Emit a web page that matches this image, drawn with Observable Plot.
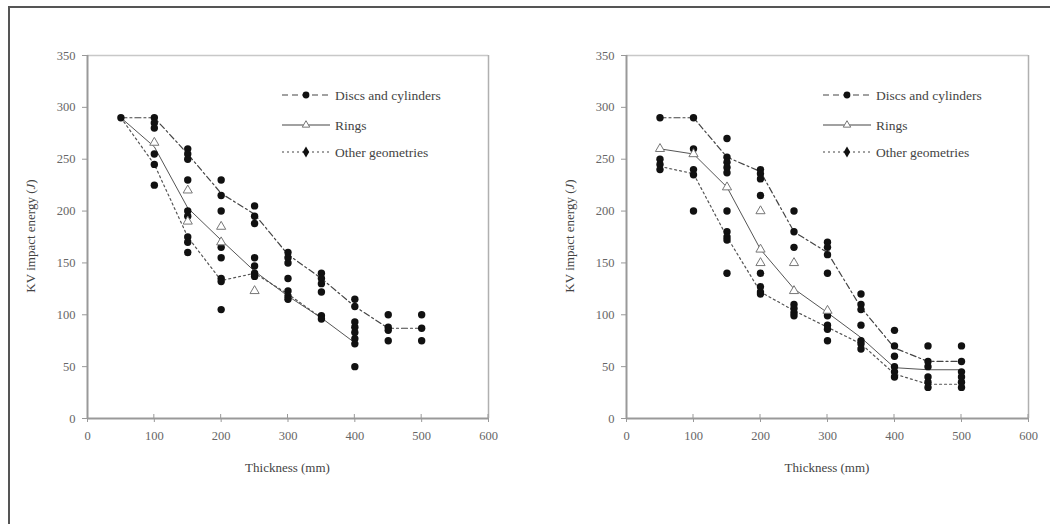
<!DOCTYPE html>
<html>
<head>
<meta charset="utf-8">
<script src="https://cdn.jsdelivr.net/npm/d3@7"></script>
<script src="https://cdn.jsdelivr.net/npm/@observablehq/plot@0.6"></script>
<style>
  html, body { margin: 0; padding: 0; background: #fff; }
  #wrap { position: relative; width: 1050px; height: 524px; overflow: hidden; background: #fff; }
  #frame { position: absolute; left: 8px; top: 6px; width: 1050px; height: 540px; border: 2px solid #555; box-sizing: border-box; }
  .panel { position: absolute; top: 0; }
</style>
</head>
<body>
<div id="wrap"><div id="frame"></div></div>
<script>
// ---------- shared ----------
const thicknessTicks = [0, 100, 200, 300, 400, 500, 600];
const energyTicks = [0, 50, 100, 150, 200, 250, 300, 350];
const seriesNames = ["Discs and cylinders", "Rings", "Other geometries"];
const xLabel = "Thickness (mm)";

// ---------- left panel ----------
const leftDiscsX = [50, 100, 100, 100, 150, 150, 150, 150, 200, 200, 200, 250, 250, 250, 300, 300, 300, 350, 350, 350, 350, 400, 400, 400, 400, 450, 450, 450, 450, 500, 500, 500];
const leftDiscsY = [290, 290, 285, 280, 260, 255, 250, 230, 230, 215, 200, 205, 195, 188, 160, 155, 150, 140, 135, 130, 122, 115, 108, 93, 88, 100, 88, 85, 75, 100, 87, 75];
const leftOtherX = [100, 100, 100, 150, 150, 150, 150, 150, 200, 200, 200, 200, 200, 250, 250, 250, 250, 300, 300, 300, 300, 350, 350, 400, 400, 400, 400];
const leftOtherY = [255, 245, 225, 200, 195, 175, 170, 160, 165, 155, 135, 132, 105, 155, 147, 140, 137, 135, 123, 118, 115, 99, 96, 83, 77, 72, 50];
const leftRingsX = [100, 150, 150, 200, 200, 250];
const leftRingsY = [266, 220, 190, 185, 170, 123];
const leftDiscsMeanX = [50, 100, 150, 200, 250, 300, 350, 400, 450, 500];
const leftDiscsMeanY = [290, 290, 255, 217, 197, 158, 135, 108, 87, 87];
const leftRingsMeanX = [50, 100, 150, 200, 250, 300, 350, 400];
const leftRingsMeanY = [290, 262, 203, 172, 142, 118, 97, 73];
const leftOtherMeanX = [50, 100, 150, 200, 250, 300, 350];
const leftOtherMeanY = [290, 245, 175, 133, 140, 120, 97];

// ---------- right panel ----------
const rightDiscsX = [50, 100, 150, 150, 150, 150, 150, 200, 200, 200, 200, 250, 250, 250, 300, 300, 300, 300, 350, 350, 350, 400, 400, 450, 450, 500, 500];
const rightDiscsY = [290, 290, 270, 252, 247, 242, 237, 240, 236, 231, 215, 200, 180, 165, 170, 165, 158, 140, 120, 110, 105, 85, 70, 70, 55, 70, 55];
const rightOtherX = [50, 50, 50, 100, 100, 100, 100, 150, 150, 150, 150, 150, 200, 200, 200, 200, 250, 250, 250, 250, 300, 300, 300, 300, 350, 350, 350, 350, 400, 400, 400, 400, 450, 450, 450, 450, 500, 500, 500, 500];
const rightOtherY = [250, 245, 240, 260, 240, 235, 200, 200, 180, 175, 172, 140, 140, 127, 122, 120, 110, 106, 102, 99, 99, 90, 86, 75, 90, 75, 72, 67, 60, 50, 45, 40, 50, 40, 35, 30, 45, 40, 35, 30];
const rightRingsX = [50, 100, 150, 200, 200, 200, 250, 250, 300];
const rightRingsY = [260, 255, 223, 200, 163, 150, 150, 123, 104];
const rightDiscsMeanX = [50, 100, 150, 200, 250, 300, 350, 400, 450, 500];
const rightDiscsMeanY = [290, 290, 252, 238, 180, 160, 107, 68, 55, 55];
const rightRingsMeanX = [50, 100, 150, 200, 250, 300, 350, 400, 450, 500];
const rightRingsMeanY = [260, 255, 223, 163, 125, 102, 78, 49, 47, 47];
const rightOtherMeanX = [50, 100, 150, 200, 250, 300, 350, 400, 450, 500];
const rightOtherMeanY = [243, 236, 175, 122, 104, 88, 72, 43, 33, 33];

const zip = (xs, ys) => xs.map((x, i) => ({x, y: ys[i]}));
const FONT = "'Liberation Serif', 'DejaVu Serif', serif";

function panel(p) {
  const chart = Plot.plot({
    width: p.width,
    height: 524,
    marginLeft: p.ml,
    marginRight: p.mr,
    marginTop: 55,
    marginBottom: 106,
    style: {fontFamily: FONT, fontSize: "12.5px", color: "#555", background: "transparent", overflow: "visible"},
    x: {domain: [0, 600]},
    y: {domain: [0, 350]},
    marks: [
      Plot.ruleY([350], {stroke: "#c8c8c8", strokeWidth: 1.5}),
      Plot.ruleX([600], {stroke: "#b0b0b0", strokeWidth: 1.5}),
      Plot.line(zip(p.discsMeanX, p.discsMeanY), {x: "x", y: "y", stroke: "#444", strokeWidth: 1.2, strokeDasharray: "6,3,2,3"}),
      Plot.line(zip(p.ringsMeanX, p.ringsMeanY), {x: "x", y: "y", stroke: "#555", strokeWidth: 1}),
      Plot.line(zip(p.otherMeanX, p.otherMeanY), {x: "x", y: "y", stroke: "#555", strokeWidth: 1.2, strokeDasharray: "2,3"}),
      Plot.dot(zip(p.otherX, p.otherY), {x: "x", y: "y", symbol: "circle", r: 3.7, fill: "#111"}),
      Plot.dot(zip(p.discsX, p.discsY), {x: "x", y: "y", symbol: "circle", r: 3.7, fill: "#111"}),
      Plot.dot(zip(p.ringsX, p.ringsY), {x: "x", y: "y", symbol: "triangle", r: 3.4, fill: "#fff", stroke: "#777", strokeWidth: 1}),
      Plot.ruleX([0], {stroke: "#999", strokeWidth: 2}),
      Plot.ruleY([0], {stroke: "#999", strokeWidth: 2}),
      Plot.axisY({ticks: energyTicks, tickSize: 5, tickPadding: 7, label: null, stroke: "#999", fill: "#666", fontSize: 12.5}),
      Plot.axisX({ticks: thicknessTicks, tickSize: 4, tickPadding: 9, label: null, stroke: "#999", fill: "#666", fontSize: 12.5})
    ]
  });
  chart.classList.add("panel");
  chart.style.left = p.left + "px";
  const svg = d3.select(chart);
  const x0 = p.ml, x1 = p.width - p.mr;
  // up-pointing halves of x ticks
  thicknessTicks.slice(1).forEach((t) => {
    const px = x0 + (x1 - x0) * t / 600;
    svg.append("line").attr("x1", px).attr("x2", px).attr("y1", 414).attr("y2", 418).attr("stroke", "#999");
  });
  // y label
  const yl = svg.append("text")
    .attr("transform", `translate(${p.ml - 52},236) rotate(-90)`)
    .attr("text-anchor", "middle")
    .attr("font-family", FONT).attr("font-size", 13).attr("fill", "#444");
  yl.append("tspan").text("KV impact energy (");
  yl.append("tspan").attr("font-style", "italic").text("J");
  yl.append("tspan").text(")");
  // x label
  svg.append("text")
    .attr("x", (x0 + x1) / 2).attr("y", 472)
    .attr("text-anchor", "middle")
    .attr("font-family", FONT).attr("font-size", 13).attr("fill", "#444")
    .text(xLabel);
  // legend
  const rows = [95, 125, 152];
  const styles = [
    {dash: "6,4", sym: "circle", fill: "#111", stroke: "none"},
    {dash: null, sym: "triangle", fill: "#fff", stroke: "#777"},
    {dash: "2,3", sym: "diamond", fill: "#111", stroke: "none"}
  ];
  seriesNames.forEach((name, i) => {
    const y = rows[i];
    svg.append("line").attr("x1", p.legX).attr("x2", p.legX + 48).attr("y1", y).attr("y2", y)
      .attr("stroke", "#444").attr("stroke-width", 1.2).attr("stroke-dasharray", styles[i].dash);
    const sym = styles[i].sym === "circle" ? d3.symbolCircle : styles[i].sym === "triangle" ? d3.symbolTriangle : d3.symbolDiamond;
    svg.append("path").attr("d", d3.symbol(sym, i === 1 ? 24 : 36)())
      .attr("transform", `translate(${p.legX + 24},${y})`)
      .attr("fill", styles[i].fill).attr("stroke", styles[i].stroke);
    svg.append("text").attr("x", p.legX + 53).attr("y", y + 4.5)
      .attr("text-anchor", "start")
      .attr("font-family", FONT).attr("font-size", 13.5).attr("fill", "#444").text(name);
  });
  document.getElementById("wrap").appendChild(chart);
}

panel({
  left: 0, width: 520, ml: 87, mr: 32, legX: 282,
  discsX: leftDiscsX, discsY: leftDiscsY, otherX: leftOtherX, otherY: leftOtherY, ringsX: leftRingsX, ringsY: leftRingsY,
  discsMeanX: leftDiscsMeanX, discsMeanY: leftDiscsMeanY, ringsMeanX: leftRingsMeanX, ringsMeanY: leftRingsMeanY,
  otherMeanX: leftOtherMeanX, otherMeanY: leftOtherMeanY
});
panel({
  left: 525, width: 525, ml: 101, mr: 22, legX: 823 - 525,
  discsX: rightDiscsX, discsY: rightDiscsY, otherX: rightOtherX, otherY: rightOtherY, ringsX: rightRingsX, ringsY: rightRingsY,
  discsMeanX: rightDiscsMeanX, discsMeanY: rightDiscsMeanY, ringsMeanX: rightRingsMeanX, ringsMeanY: rightRingsMeanY,
  otherMeanX: rightOtherMeanX, otherMeanY: rightOtherMeanY
});
</script>
</body>
</html>
